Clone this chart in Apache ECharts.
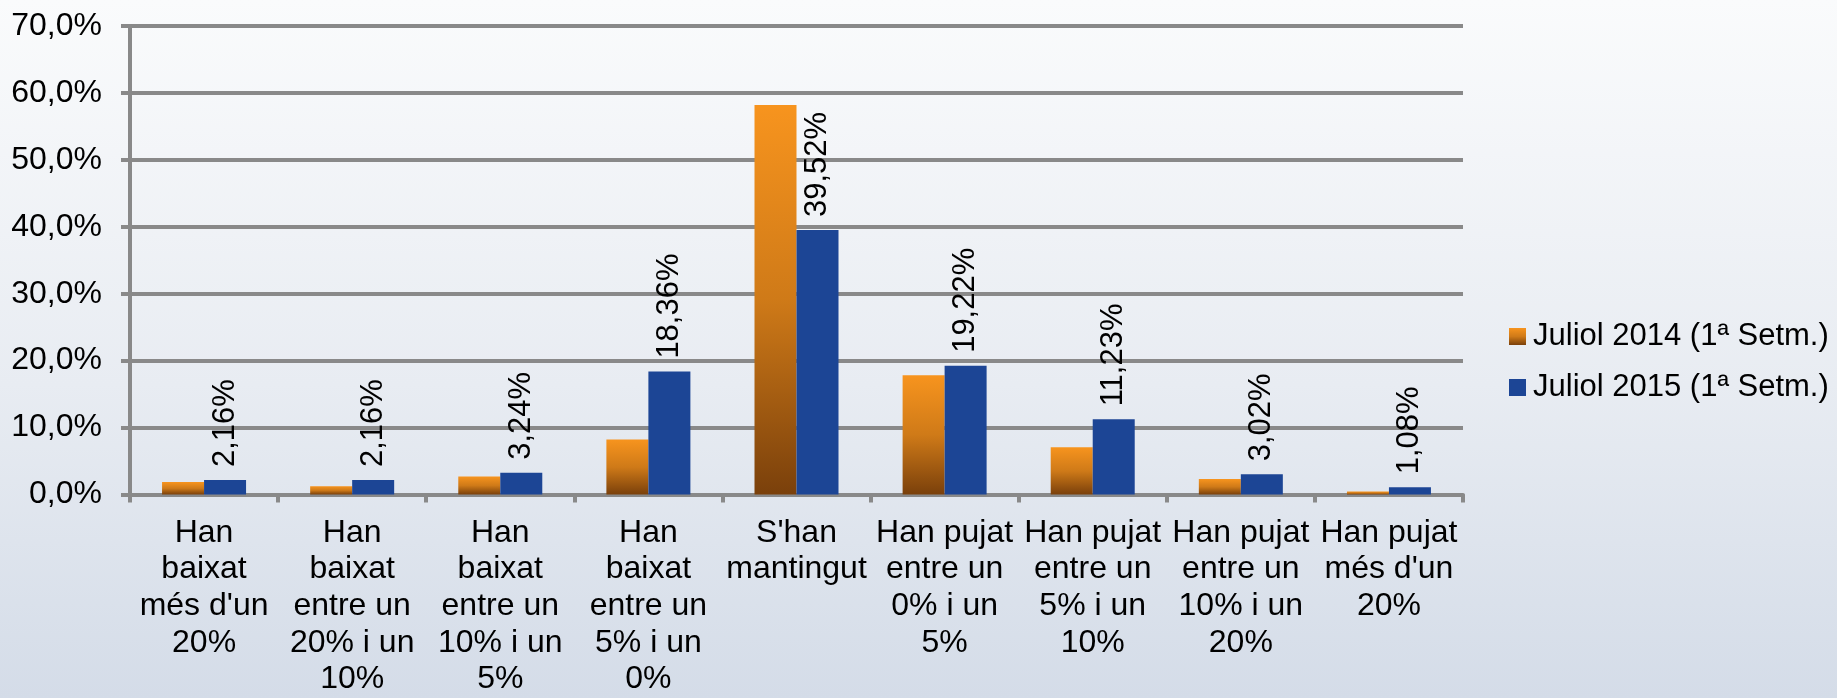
<!DOCTYPE html>
<html>
<head>
<meta charset="utf-8">
<script src="https://cdn.jsdelivr.net/npm/echarts@6/dist/echarts.min.js"></script>
<style>
  html, body { margin: 0; padding: 0; }
  #chart {
    width: 1837px;
    height: 698px;
    background: linear-gradient(to bottom, #fafbfc 0%, #e8ecf2 55%, #d4dce8 100%);
  }
</style>
</head>
<body>
<div id="chart"></div>
<script>
// categories (line breaks as wrapped in the original)
const categories = [
  'Han\nbaixat\nmés d\'un\n20%',
  'Han\nbaixat\nentre un\n20% i un\n10%',
  'Han\nbaixat\nentre un\n10% i un\n5%',
  'Han\nbaixat\nentre un\n5% i un\n0%',
  'S\'han\nmantingut',
  'Han pujat\nentre un\n0% i un\n5%',
  'Han pujat\nentre un\n5% i un\n10%',
  'Han pujat\nentre un\n10% i un\n20%',
  'Han pujat\nmés d\'un\n20%'
]
const seriesNames = ['Juliol 2014 (1ª Setm.)', 'Juliol 2015 (1ª Setm.)']
// 2014 values (no labels in the original)
const values2014 = [1.85, 1.25, 2.7, 8.2, 58.2, 17.8, 7.05, 2.3, 0.45]
const values2015 = [2.16, 2.16, 3.24, 18.36, 39.52, 19.22, 11.23, 3.02, 1.08]

const font = 'Liberation Sans, Arial, sans-serif'
const gray = '#898989'
const fs = 32

const chart = echarts.init(document.getElementById('chart'))

const fmtComma = (v, d) => v.toFixed(d).replace('.', ',') + '%'

chart.setOption({
  backgroundColor: 'transparent',
  textStyle: { fontFamily: font },
  animation: false,
  grid: {
    left: 130,
    right: 374,
    top: 26,
    bottom: 198
  },
  legend: {
    orient: 'vertical',
    left: 1504,
    top: 316,
    itemWidth: 17,
    itemHeight: 17,
    itemGap: 20,
    icon: 'rect',
    textStyle: {
      fontSize: 31,
      color: '#000',
      fontFamily: font,
      padding: [0, 0, 0, 2]
    },
    data: seriesNames
  },
  xAxis: {
    type: 'category',
    data: categories,
    axisLine: { lineStyle: { color: gray, width: 4 } },
    axisTick: { show: true, length: 8, lineStyle: { color: gray, width: 4 } },
    axisLabel: {
      interval: 0,
      fontSize: fs,
      lineHeight: 36.7,
      color: '#000',
      margin: 20
    }
  },
  yAxis: {
    type: 'value',
    min: 0,
    max: 70,
    interval: 10,
    axisLine: { show: true, lineStyle: { color: gray, width: 4 } },
    axisTick: { show: true, length: 9, lineStyle: { color: gray, width: 4 } },
    splitLine: { lineStyle: { color: gray, width: 4 } },
    axisLabel: {
      fontSize: fs,
      color: '#000',
      margin: 28,
      formatter: v => fmtComma(v, 1)
    }
  },
  series: [
    {
      name: seriesNames[0],
      type: 'bar',
      data: values2014,
      barWidth: 42,
      barGap: '0%',
      itemStyle: {
        color: new echarts.graphic.LinearGradient(0, 0, 0, 1, [
          { offset: 0, color: '#f7941e' },
          { offset: 0.5, color: '#cf7a18' },
          { offset: 1, color: '#7a400b' }
        ])
      }
    },
    {
      name: seriesNames[1],
      type: 'bar',
      data: values2015,
      barWidth: 42,
      itemStyle: { color: '#1c4595' },
      label: {
        show: true,
        position: 'top',
        rotate: 90,
        align: 'left',
        verticalAlign: 'middle',
        distance: 13,
        fontSize: 31,
        color: '#000',
        formatter: p => fmtComma(p.value, 2)
      }
    }
  ]
})
</script>
</body>
</html>
